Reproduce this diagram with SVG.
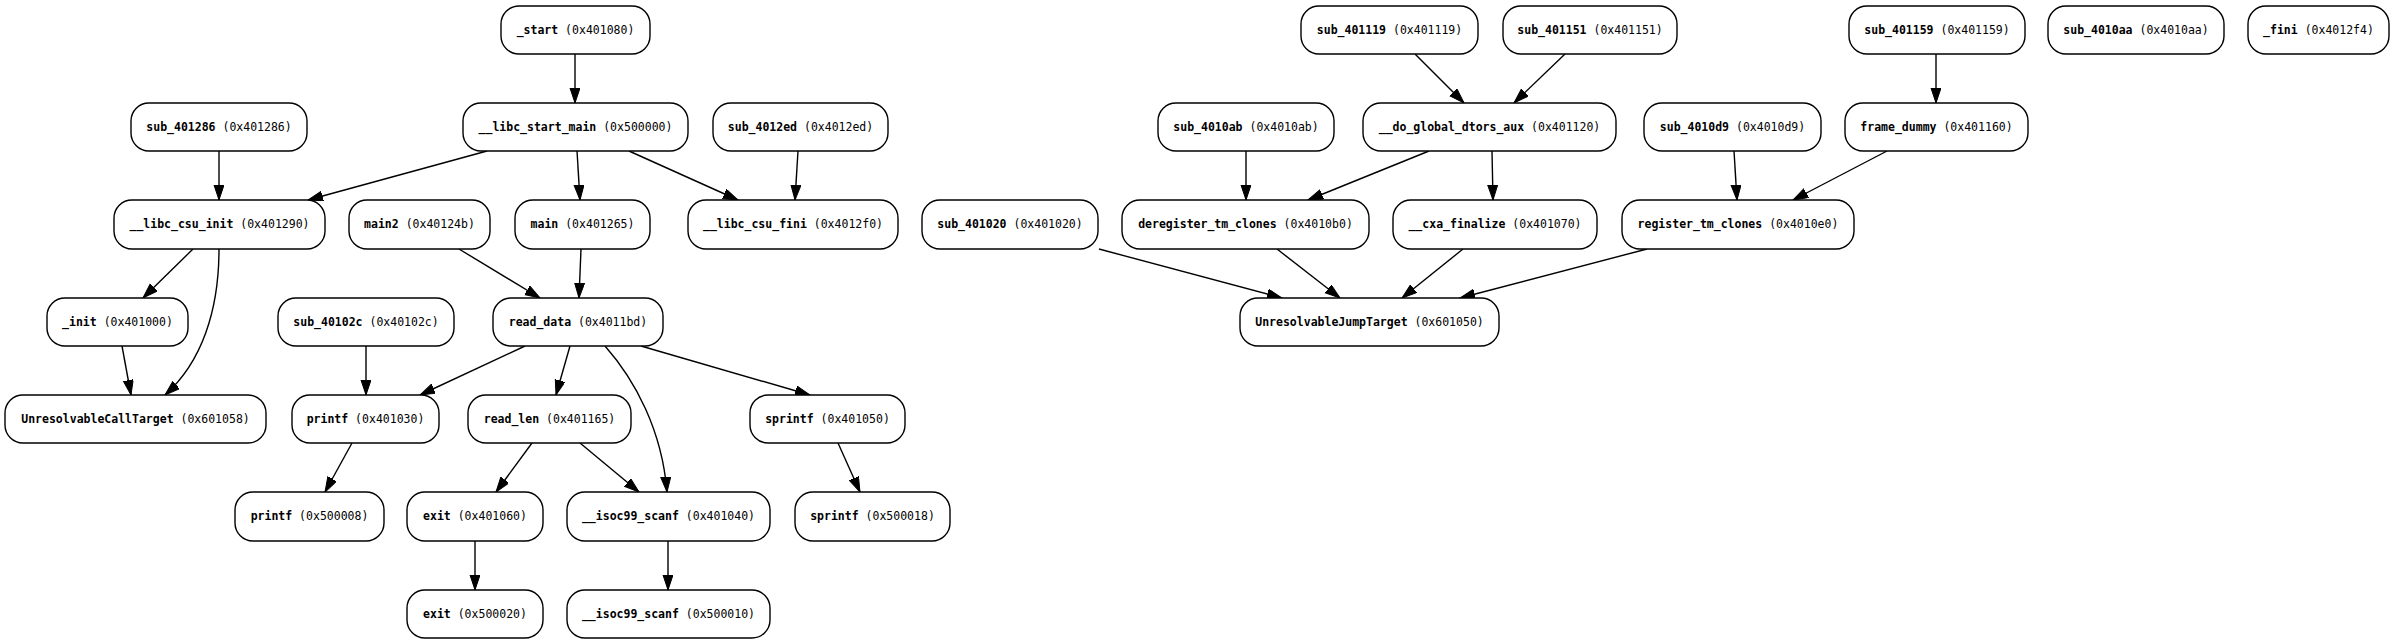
<svg xmlns="http://www.w3.org/2000/svg" width="2395" height="644" viewBox="0 0 2395 644">
<style>
.n rect{fill:#fff;stroke:#000;stroke-width:1.4}
.n text{font-family:"DejaVu Sans Mono","Liberation Mono",monospace;font-size:11.5px;text-anchor:middle;fill:#000}
.n .b{font-weight:bold}
#edges path{fill:none;stroke:#000;stroke-width:1.4;marker-end:url(#ah)}
</style>
<defs>
<marker id="ah" markerUnits="userSpaceOnUse" markerWidth="16" markerHeight="11" refX="15" refY="5" orient="auto">
<path d="M0,0 L15,5 L0,10 z" fill="#000" stroke="#000" stroke-width="1"/>
</marker>
</defs>
<rect width="2395" height="644" fill="#fff"/>
<g id="edges">
<path d="M575,54 L575,103"/>
<path d="M487,151 L308,200"/>
<path d="M577,151 L580,200"/>
<path d="M629,151 L738,200"/>
<path d="M219,151 L219,200"/>
<path d="M798,151 L795,200"/>
<path d="M193,249 L143,298"/>
<path d="M219,249 C219,310 202,362 165,395"/>
<path d="M459,249 L540,298"/>
<path d="M581,249 L579,298"/>
<path d="M122,346 L131,395"/>
<path d="M366,346 L366,395"/>
<path d="M525,346 L420,395"/>
<path d="M570,346 L556,395"/>
<path d="M605,346 C635,380 662,430 667,492"/>
<path d="M641,346 L810,395"/>
<path d="M352,443 L325,492"/>
<path d="M532,443 L496,492"/>
<path d="M580,443 L639,492"/>
<path d="M838,443 L860,492"/>
<path d="M475,541 L475,590"/>
<path d="M668,541 L668,590"/>
<path d="M1415,54 L1464,103"/>
<path d="M1565,54 L1514,103"/>
<path d="M1936,54 L1936,103"/>
<path d="M1246,151 L1246,200"/>
<path d="M1429,151 L1308,200"/>
<path d="M1492,151 L1493,200"/>
<path d="M1734,151 L1737,200"/>
<path d="M1887,151 L1793,200"/>
<path d="M1099,249 L1282,298"/>
<path d="M1277,249 L1340,298"/>
<path d="M1463,249 L1402,298"/>
<path d="M1647,249 L1460,298"/>
</g>
<g id="n_start" class="n"><rect x="501" y="6" width="149" height="48" rx="18"/><text x="575.5" y="33.5"><tspan class="b">_start</tspan> (0x401080)</text></g>
<g id="n_sub_401119" class="n"><rect x="1301" y="6" width="177" height="48" rx="18"/><text x="1389.5" y="33.5"><tspan class="b">sub_401119</tspan> (0x401119)</text></g>
<g id="n_sub_401151" class="n"><rect x="1503" y="6" width="174" height="48" rx="18"/><text x="1590" y="33.5"><tspan class="b">sub_401151</tspan> (0x401151)</text></g>
<g id="n_sub_401159" class="n"><rect x="1849" y="6" width="176" height="48" rx="18"/><text x="1937" y="33.5"><tspan class="b">sub_401159</tspan> (0x401159)</text></g>
<g id="n_sub_4010aa" class="n"><rect x="2048" y="6" width="176" height="48" rx="18"/><text x="2136" y="33.5"><tspan class="b">sub_4010aa</tspan> (0x4010aa)</text></g>
<g id="n_fini" class="n"><rect x="2248" y="6" width="141" height="48" rx="18"/><text x="2318.5" y="33.5"><tspan class="b">_fini</tspan> (0x4012f4)</text></g>

<g id="n_sub_401286" class="n"><rect x="131" y="103" width="176" height="48" rx="18"/><text x="219" y="130.5"><tspan class="b">sub_401286</tspan> (0x401286)</text></g>
<g id="n_libc_start_main" class="n"><rect x="463" y="103" width="225" height="48" rx="18"/><text x="575.5" y="130.5"><tspan class="b">__libc_start_main</tspan> (0x500000)</text></g>
<g id="n_sub_4012ed" class="n"><rect x="713" y="103" width="175" height="48" rx="18"/><text x="800.5" y="130.5"><tspan class="b">sub_4012ed</tspan> (0x4012ed)</text></g>
<g id="n_sub_4010ab" class="n"><rect x="1158" y="103" width="176" height="48" rx="18"/><text x="1246" y="130.5"><tspan class="b">sub_4010ab</tspan> (0x4010ab)</text></g>
<g id="n_do_global_dtors_aux" class="n"><rect x="1363" y="103" width="253" height="48" rx="18"/><text x="1489.5" y="130.5"><tspan class="b">__do_global_dtors_aux</tspan> (0x401120)</text></g>
<g id="n_sub_4010d9" class="n"><rect x="1644" y="103" width="177" height="48" rx="18"/><text x="1732.5" y="130.5"><tspan class="b">sub_4010d9</tspan> (0x4010d9)</text></g>
<g id="n_frame_dummy" class="n"><rect x="1845" y="103" width="183" height="48" rx="18"/><text x="1936.5" y="130.5"><tspan class="b">frame_dummy</tspan> (0x401160)</text></g>

<g id="n_libc_csu_init" class="n"><rect x="114" y="200" width="211" height="49" rx="18"/><text x="219.5" y="228"><tspan class="b">__libc_csu_init</tspan> (0x401290)</text></g>
<g id="n_main2" class="n"><rect x="349" y="200" width="141" height="49" rx="18"/><text x="419.5" y="228"><tspan class="b">main2</tspan> (0x40124b)</text></g>
<g id="n_main" class="n"><rect x="515" y="200" width="135" height="49" rx="18"/><text x="582.5" y="228"><tspan class="b">main</tspan> (0x401265)</text></g>
<g id="n_libc_csu_fini" class="n"><rect x="688" y="200" width="210" height="49" rx="18"/><text x="793" y="228"><tspan class="b">__libc_csu_fini</tspan> (0x4012f0)</text></g>
<g id="n_sub_401020" class="n"><rect x="922" y="200" width="176" height="49" rx="18"/><text x="1010" y="228"><tspan class="b">sub_401020</tspan> (0x401020)</text></g>
<g id="n_deregister_tm_clones" class="n"><rect x="1122" y="200" width="247" height="49" rx="18"/><text x="1245.5" y="228"><tspan class="b">deregister_tm_clones</tspan> (0x4010b0)</text></g>
<g id="n_cxa_finalize" class="n"><rect x="1393" y="200" width="204" height="49" rx="18"/><text x="1495" y="228"><tspan class="b">__cxa_finalize</tspan> (0x401070)</text></g>
<g id="n_register_tm_clones" class="n"><rect x="1622" y="200" width="232" height="49" rx="18"/><text x="1738" y="228"><tspan class="b">register_tm_clones</tspan> (0x4010e0)</text></g>

<g id="n_init" class="n"><rect x="47" y="298" width="141" height="48" rx="18"/><text x="117.5" y="325.5"><tspan class="b">_init</tspan> (0x401000)</text></g>
<g id="n_sub_40102c" class="n"><rect x="278" y="298" width="176" height="48" rx="18"/><text x="366" y="325.5"><tspan class="b">sub_40102c</tspan> (0x40102c)</text></g>
<g id="n_read_data" class="n"><rect x="493" y="298" width="170" height="48" rx="18"/><text x="578" y="325.5"><tspan class="b">read_data</tspan> (0x4011bd)</text></g>
<g id="n_UnresolvableJumpTarget" class="n"><rect x="1240" y="298" width="259" height="48" rx="18"/><text x="1369.5" y="325.5"><tspan class="b">UnresolvableJumpTarget</tspan> (0x601050)</text></g>

<g id="n_UnresolvableCallTarget" class="n"><rect x="5" y="395" width="261" height="48" rx="18"/><text x="135.5" y="422.5"><tspan class="b">UnresolvableCallTarget</tspan> (0x601058)</text></g>
<g id="n_printf_401030" class="n"><rect x="292" y="395" width="147" height="48" rx="18"/><text x="365.5" y="422.5"><tspan class="b">printf</tspan> (0x401030)</text></g>
<g id="n_read_len" class="n"><rect x="468" y="395" width="163" height="48" rx="18"/><text x="549.5" y="422.5"><tspan class="b">read_len</tspan> (0x401165)</text></g>
<g id="n_sprintf_401050" class="n"><rect x="750" y="395" width="155" height="48" rx="18"/><text x="827.5" y="422.5"><tspan class="b">sprintf</tspan> (0x401050)</text></g>

<g id="n_printf_500008" class="n"><rect x="235" y="492" width="149" height="49" rx="18"/><text x="309.5" y="520"><tspan class="b">printf</tspan> (0x500008)</text></g>
<g id="n_exit_401060" class="n"><rect x="407" y="492" width="136" height="49" rx="18"/><text x="475" y="520"><tspan class="b">exit</tspan> (0x401060)</text></g>
<g id="n_isoc99_scanf_401040" class="n"><rect x="567" y="492" width="203" height="49" rx="18"/><text x="668.5" y="520"><tspan class="b">__isoc99_scanf</tspan> (0x401040)</text></g>
<g id="n_sprintf_500018" class="n"><rect x="795" y="492" width="155" height="49" rx="18"/><text x="872.5" y="520"><tspan class="b">sprintf</tspan> (0x500018)</text></g>

<g id="n_exit_500020" class="n"><rect x="407" y="590" width="136" height="48" rx="18"/><text x="475" y="617.5"><tspan class="b">exit</tspan> (0x500020)</text></g>
<g id="n_isoc99_scanf_500010" class="n"><rect x="567" y="590" width="203" height="48" rx="18"/><text x="668.5" y="617.5"><tspan class="b">__isoc99_scanf</tspan> (0x500010)</text></g>
</svg>
